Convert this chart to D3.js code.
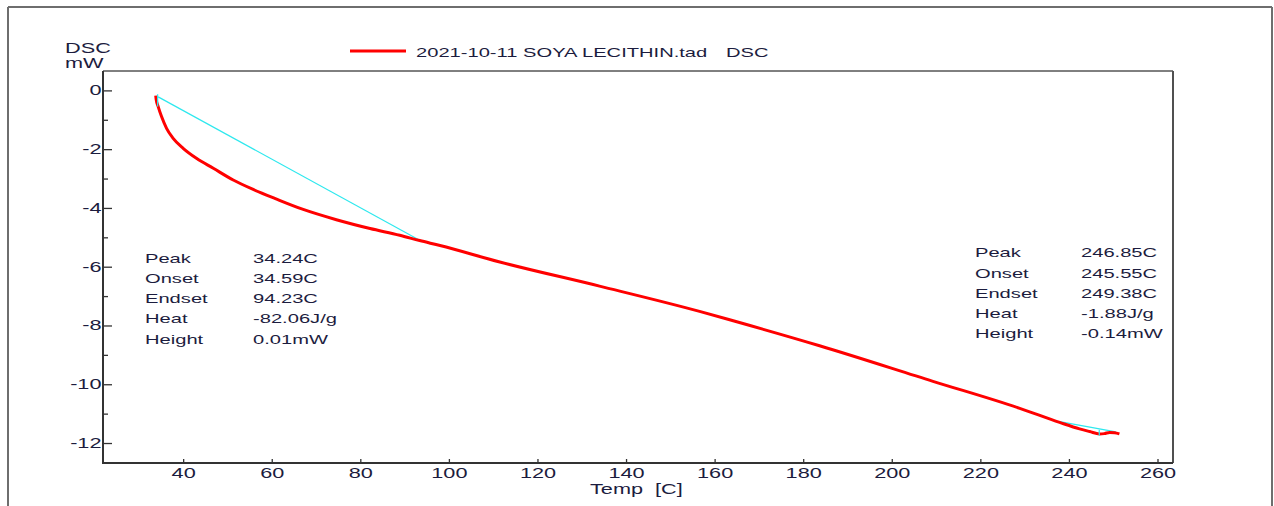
<!DOCTYPE html>
<html>
<head>
<meta charset="utf-8">
<script src="https://cdn.jsdelivr.net/npm/d3@7"></script>
<style>
  body { margin: 0; background: #fff; }
  svg { display: block; font-family: 'Liberation Sans', Arial, sans-serif; }
</style>
</head>
<body>
<div id="chart"></div>
<script>
// data
var redTemp = [ 33.8, 33.9, 34.36, 35.12, 36.25, 37.74, 40.0, 43.0, 46.8, 51.3, 55.8, 61.1, 67.1, 74.6, 82.2, 88.9, 93.4,
                98.0, 111.5, 134.0, 156.6, 164.2, 183.7, 209.3, 228.9, 237.9, 242.4, 244.7, 246.9, 248.0, 249.2, 250.3, 251.4 ];
var redDsc  = [ -0.18, -0.30, -0.55, -0.89, -1.29, -1.63, -1.97, -2.31, -2.65, -3.05, -3.37, -3.70, -4.05, -4.40, -4.70, -4.93, -5.11,
                -5.28, -5.84, -6.66, -7.52, -7.84, -8.69, -9.90, -10.82, -11.30, -11.52, -11.61, -11.69, -11.68, -11.64, -11.65, -11.69 ];

var base1Temp = [ 34.36, 93.4 ];
var base1Dsc  = [ -0.22, -5.10 ];
var base2Temp = [ 237.9, 250.6 ];
var base2Dsc  = [ -11.27, -11.62 ];

var peakTemp   = [ 34.24, 246.85 ];
var peakTop    = [ -0.13, -11.55 ];
var peakBottom = [ -0.55, -11.75 ];

var xTicks = [ 40, 60, 80, 100, 120, 140, 160, 180, 200, 220, 240, 260 ];
var yTicks = [ 0, -2, -4, -6, -8, -10, -12 ];
var yMinor = [ -1, -3, -5, -7, -9, -11 ];

var statLabels = [ 'Peak', 'Onset', 'Endset', 'Heat', 'Height' ];
var leftStats  = [ '34.24C', '34.59C', '94.23C', '-82.06J/g', '0.01mW' ];
var rightStats = [ '246.85C', '245.55C', '249.38C', '-1.88J/g', '-0.14mW' ];

var legendText = '2021-10-11 SOYA LECITHIN.tad';
var legendTail = 'DSC';
var xTitle = 'Temp  [C]';
var yTitle = [ 'DSC', 'mW' ];

// namespace
var dsc = {};

dsc.textColor = '#1c1c3e';
dsc.stretch = 1.55;

// text
dsc.drawText = function( svg, text, x, y, size ) {
    svg.append( 'text' )
       .attr( 'transform', 'translate(' + x + ',' + y + ') scale(' + dsc.stretch + ',1)' )
       .attr( 'font-size', size )
       .attr( 'fill', dsc.textColor )
       .style( 'white-space', 'pre' )
       .text( text );
}

// line
dsc.drawLine = function( svg, x1, y1, x2, y2, color, width ) {
    svg.append( 'line' )
       .attr( 'x1', x1 ).attr( 'y1', y1 )
       .attr( 'x2', x2 ).attr( 'y2', y2 )
       .attr( 'stroke', color )
       .attr( 'stroke-width', width );
}

// render
dsc.render = function( root ) {
    var width = 1274;
    var height = 506;
    var plot = { left: 103, top: 71, right: 1173, bottom: 463 };

    var svg = d3.select( root )
                .append( 'svg' )
                .attr( 'width', width )
                .attr( 'height', height );

    var x = d3.scaleLinear().domain( [ 21.9, 263.5 ] ).range( [ plot.left, plot.right ] );
    var y = d3.scaleLinear().domain( [ -12.68, 0.66 ] ).range( [ plot.bottom, plot.top ] );
    var plain = function( d ) { return String( d ); };

    // outer frame
    dsc.drawLine( svg, 8, 7, 1272, 7, '#6e6e6e', 2 );
    dsc.drawLine( svg, 8, 7, 8, height, '#6e6e6e', 2 );
    dsc.drawLine( svg, 1272, 7, 1272, height, '#6e6e6e', 2 );

    // x axis
    var gx = svg.append( 'g' )
                .attr( 'transform', 'translate(0,' + plot.bottom + ')' )
                .call( d3.axisBottom( x ).tickValues( xTicks ).tickSize( -4 ).tickPadding( 5 ).tickFormat( plain ) );
    gx.select( '.domain' ).remove();
    gx.attr( 'font-family', null );
    gx.selectAll( 'line' ).attr( 'stroke', '#333' ).attr( 'stroke-width', 1.3 );
    gx.selectAll( 'text' )
      .attr( 'font-size', 14 )
      .attr( 'fill', dsc.textColor )
      .attr( 'transform', 'scale(' + dsc.stretch + ',1)' );

    // y axis
    var gy = svg.append( 'g' )
                .attr( 'transform', 'translate(' + plot.left + ',0)' )
                .call( d3.axisLeft( y ).tickValues( yTicks ).tickSize( -9 ).tickPadding( 2 ).tickFormat( plain ) );
    gy.select( '.domain' ).remove();
    gy.attr( 'font-family', null );
    gy.selectAll( 'line' ).attr( 'stroke', '#333' ).attr( 'stroke-width', 1.3 );
    gy.selectAll( 'text' )
      .attr( 'x', 0 )
      .attr( 'font-size', 14 )
      .attr( 'fill', dsc.textColor )
      .attr( 'transform', 'translate(-1.5,0) scale(' + dsc.stretch + ',1)' );

    var gm = svg.append( 'g' )
                .attr( 'transform', 'translate(' + plot.left + ',0)' )
                .call( d3.axisLeft( y ).tickValues( yMinor ).tickSize( -5 ).tickFormat( '' ) );
    gm.select( '.domain' ).remove();
    gm.selectAll( 'line' ).attr( 'stroke', '#333' ).attr( 'stroke-width', 1.3 );

    // plot frame
    dsc.drawLine( svg, plot.left, plot.top, plot.right, plot.top, '#000', 1 );
    dsc.drawLine( svg, plot.right, plot.top, plot.right, plot.bottom, '#505050', 2 );
    dsc.drawLine( svg, plot.left, plot.bottom, plot.right, plot.bottom, '#333', 2 );
    dsc.drawLine( svg, plot.left, plot.top, plot.left, plot.bottom + 1, '#333', 2 );

    // baselines
    var line = d3.line()
                 .x( function( d ) { return x( d[ 0 ] ); } )
                 .y( function( d ) { return y( d[ 1 ] ); } );

    [ [ base1Temp, base1Dsc ], [ base2Temp, base2Dsc ] ].forEach( function( b ) {
        svg.append( 'path' )
           .datum( d3.zip( b[ 0 ], b[ 1 ] ) )
           .attr( 'd', line )
           .attr( 'fill', 'none' )
           .attr( 'stroke', '#2ee8ee' )
           .attr( 'stroke-width', 1.2 );
    });

    // red curve
    svg.append( 'path' )
       .datum( d3.zip( redTemp, redDsc ) )
       .attr( 'd', line.curve( d3.curveMonotoneX ) )
       .attr( 'fill', 'none' )
       .attr( 'stroke', '#ff0000' )
       .attr( 'stroke-width', 3 )
       .attr( 'stroke-linejoin', 'round' );

    // peak markers
    for( var i = 0; i < peakTemp.length; i++ ) {
        dsc.drawLine( svg, x( peakTemp[ i ] ), y( peakTop[ i ] ), x( peakTemp[ i ] ), y( peakBottom[ i ] ), '#2ee8ee', 1.2 );
    }

    // stats
    for( var i = 0; i < statLabels.length; i++ ) {
        dsc.drawText( svg, statLabels[ i ], 145, 262.5 + i * 20.3, 13 );
        dsc.drawText( svg, leftStats[ i ], 253, 262.5 + i * 20.3, 13 );
        dsc.drawText( svg, statLabels[ i ], 975, 257.3 + i * 20.25, 13 );
        dsc.drawText( svg, rightStats[ i ], 1081, 257.3 + i * 20.25, 13 );
    }

    // legend
    dsc.drawLine( svg, 350, 51, 406, 51, '#ff0000', 3 );
    dsc.drawText( svg, legendText, 416, 57, 13 );
    dsc.drawText( svg, legendTail, 726, 57, 13 );

    // titles
    dsc.drawText( svg, yTitle[ 0 ], 65, 53, 14 );
    dsc.drawText( svg, yTitle[ 1 ], 65, 68, 14 );
    dsc.drawText( svg, xTitle, 590, 494, 14 );
}

dsc.render( '#chart' );
</script>
</body>
</html>
